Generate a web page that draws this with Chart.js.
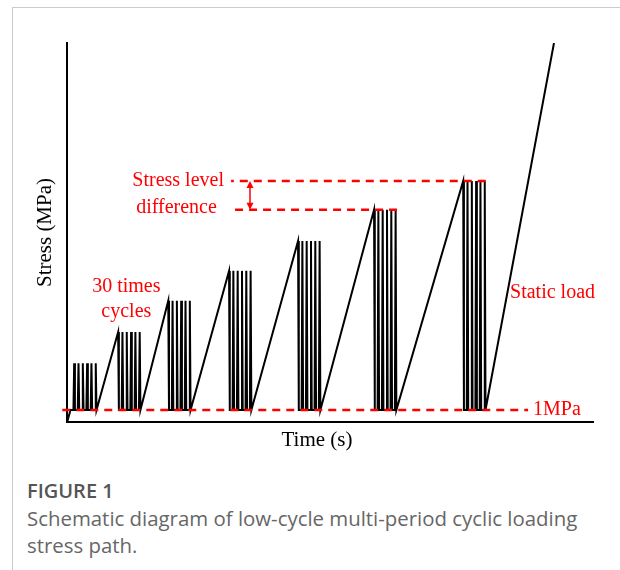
<!DOCTYPE html>
<html>
<head>
<meta charset="utf-8">
<title>Low-cycle multi-period cyclic loading stress path</title>
<script src="https://cdn.jsdelivr.net/npm/chart.js@4/dist/chart.umd.min.js"></script>
<style>
  html, body { margin: 0; padding: 0; background: #fff; }
  body { width: 620px; height: 570px; position: relative; overflow: hidden; }
  .card { position: absolute; left: 12px; top: 7px; width: 660px; height: 620px;
          border-left: 1px solid #cbcbcb; border-top: 1px solid #cbcbcb; }
  #plot { position: absolute; left: 0; top: 0; }
  .caption { position: absolute; left: 27px; top: 476px; width: 585px;
             font-family: "Open Sans", sans-serif; }
  .caption .fig { font-weight: 600; font-size: 20px; line-height: 29px; color: #555; }
  .caption .txt { font-size: 20.4px; line-height: 26.5px; color: #666; }
</style>
</head>
<body>
<div class="card"></div>
<canvas id="plot" width="620" height="470"></canvas>
<div class="caption">
  <div class="fig">FIGURE 1</div>
  <div class="txt">Schematic diagram of low-cycle multi-period cyclic loading stress path.</div>
</div>
<script>
// Loading protocol (stress in MPa, time in s; the axes carry no ticks)
const baseStress = 1;                                          // lower limit of every cycle
const levelPeak  = [4.9, 7.5, 10.1, 12.6, 15.1, 17.7, 20.1];   // upper limit of each stress level
const levelStart = [1.7, 12.4, 24.6, 39.4, 56.2, 74.7, 96.4];  // time of the first peak of each level
const cyclesShown = 6;                                         // cycles drawn per level
const cyclePeriod = 1.05;                                      // spacing of the cycle peaks
const spikeHalf = 0.18;                                        // load / unload time of one cycle
const preloadEnd = 0.8;                                        // time the 1 MPa preload is reached
const staticEnd = { t: 118.5, s: 31.6 };                       // end of the final static loading
const timeMax = 128;
const stressMax = 31.6;

// Guide line extents (time)
const baseGuide  = [-1.2, 112.2];
const upperGuide = [101.9, 39.9];
const lowerGuide = [80.3, 40.4];
const arrowTime  = 44.5;
const timeTitleAt = 60.8;

const red = '#ff0000';

// Stress path: preload, cyclic levels, then static loading to failure
const path = [{ x: 0, y: 0 }, { x: preloadEnd, y: baseStress }];
levelPeak.forEach((peak, i) => {
  for (let k = 0; k < cyclesShown; k++) {
    const tp = levelStart[i] + k * cyclePeriod;
    if (i === 0 || k > 0) path.push({ x: tp - spikeHalf, y: baseStress });
    path.push({ x: tp, y: peak });
    path.push({ x: tp + spikeHalf, y: baseStress });
  }
});
path.push({ x: staticEnd.t, y: staticEnd.s });

const dashed = {
  borderColor: red, borderWidth: 2.5, borderDash: [8, 6],
  pointRadius: 0, fill: false, tension: 0
};

const serifFamily = '"Liberation Serif", "Times New Roman", serif';

// Labels, axis title and the stress-level-difference arrow
const annotations = {
  id: 'annotations',
  afterDatasetsDraw(chart) {
    const { ctx, scales: { x, y } } = chart;
    ctx.save();
    // double-headed arrow between the two highest levels
    const ax = x.getPixelForValue(arrowTime);
    const yTop = y.getPixelForValue(levelPeak[6]);
    const yBot = y.getPixelForValue(levelPeak[5]);
    ctx.strokeStyle = red; ctx.fillStyle = red; ctx.lineWidth = 1.5;
    ctx.beginPath(); ctx.moveTo(ax, yTop + 5); ctx.lineTo(ax, yBot - 5); ctx.stroke();
    ctx.beginPath(); ctx.moveTo(ax, yTop); ctx.lineTo(ax - 3.5, yTop + 7); ctx.lineTo(ax + 3.5, yTop + 7); ctx.closePath(); ctx.fill();
    ctx.beginPath(); ctx.moveTo(ax, yBot); ctx.lineTo(ax - 3.5, yBot - 7); ctx.lineTo(ax + 3.5, yBot - 7); ctx.closePath(); ctx.fill();

    ctx.font = '20px ' + serifFamily;
    ctx.textBaseline = 'middle';
    const put = (text, t, s, align) => {
      ctx.textAlign = align;
      ctx.fillText(text, x.getPixelForValue(t), y.getPixelForValue(s));
    };
    put('Stress level', 27.0, 20.1, 'center');
    put('difference', 26.6, 17.9, 'center');
    put('30 times', 14.4, 11.25, 'center');
    put('cycles', 14.4, 9.17, 'center');
    put('Static load', 107.8, 10.75, 'left');
    put('1MPa', 113.4, 1.05, 'left');

    // horizontal axis title
    ctx.fillStyle = '#000';
    ctx.font = '21px ' + serifFamily;
    ctx.textAlign = 'center';
    ctx.fillText('Time (s)', x.getPixelForValue(timeTitleAt), y.bottom + 18);
    ctx.restore();
  }
};

new Chart(document.getElementById('plot'), {
  type: 'line',
  data: {
    datasets: [
      Object.assign({ data: [{ x: baseGuide[0], y: baseStress }, { x: baseGuide[1], y: baseStress }], clip: false }, dashed),
      Object.assign({ data: [{ x: upperGuide[0], y: levelPeak[6] }, { x: upperGuide[1], y: levelPeak[6] }] }, dashed),
      Object.assign({ data: [{ x: lowerGuide[0], y: levelPeak[5] }, { x: lowerGuide[1], y: levelPeak[5] }] }, dashed),
      { data: path, borderColor: '#000', borderWidth: 2, pointRadius: 0, fill: false, tension: 0 }
    ]
  },
  options: {
    responsive: false,
    animation: false,
    devicePixelRatio: 1,
    layout: { padding: { left: 29, top: 43, right: 27, bottom: 48 } },
    plugins: { legend: { display: false }, tooltip: { enabled: false } },
    scales: {
      x: {
        type: 'linear', min: 0, max: timeMax,
        grid: { display: false, drawTicks: false },
        ticks: { display: false },
        border: { display: true, color: '#000', width: 2 }
      },
      y: {
        type: 'linear', min: 0, max: stressMax,
        grid: { display: false, drawTicks: false },
        ticks: { display: false },
        border: { display: true, color: '#000', width: 2 },
        title: { display: true, text: 'Stress (MPa)', color: '#000',
                 font: { family: serifFamily, size: 21 }, padding: { top: 4, bottom: 9 } }
      }
    }
  },
  plugins: [annotations]
});
</script>
</body>
</html>
